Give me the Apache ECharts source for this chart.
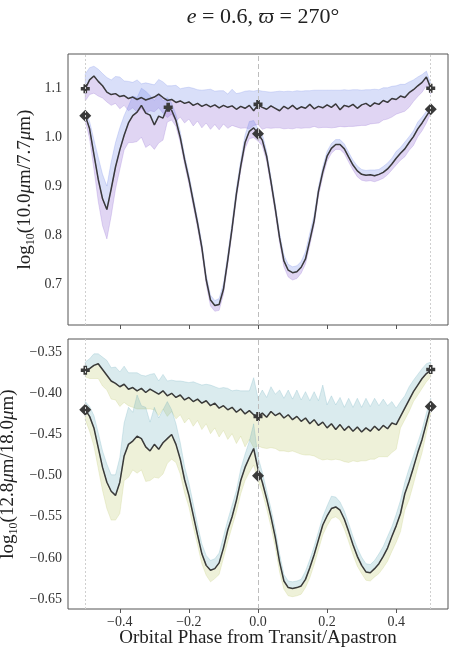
<!DOCTYPE html>
<html>
<head>
<meta charset="utf-8">
<script src="https://cdn.jsdelivr.net/npm/echarts@6/dist/echarts.min.js"></script>
<style>
  html, body { margin: 0; padding: 0; background: #fff; }
  #chart { width: 463px; height: 656px; }
</style>
</head>
<body>
<div id="chart"></div>
<script>
// orbital phase samples
const PH = [
  -0.5, -0.4875, -0.475, -0.4625, -0.45, -0.4375, -0.425, -0.4125, -0.4, -0.3875,
  -0.375, -0.3625, -0.35, -0.3375, -0.325, -0.3125, -0.3, -0.2875, -0.275, -0.2625,
  -0.25, -0.2375, -0.225, -0.2125, -0.2, -0.1875, -0.175, -0.1625, -0.15, -0.1375,
  -0.125, -0.1125, -0.1, -0.0875, -0.075, -0.0625, -0.05, -0.0375, -0.025, -0.0125,
  0, 0.0125, 0.025, 0.0375, 0.05, 0.0625, 0.075, 0.0875, 0.1, 0.1125,
  0.125, 0.1375, 0.15, 0.1625, 0.175, 0.1875, 0.2, 0.2125, 0.225, 0.2375,
  0.25, 0.2625, 0.275, 0.2875, 0.3, 0.3125, 0.325, 0.3375, 0.35, 0.3625,
  0.375, 0.3875, 0.4, 0.4125, 0.425, 0.4375, 0.45, 0.4625, 0.475, 0.4875,
  0.5
];

// top panel: log10(10.0um/7.7um)
const TOP_A = [
  1.100, 1.118, 1.126, 1.115, 1.106, 1.093, 1.088, 1.090, 1.084, 1.086,
  1.080, 1.083, 1.078, 1.082, 1.077, 1.080, 1.083, 1.089, 1.082, 1.076,
  1.078, 1.072, 1.075, 1.070, 1.073, 1.066, 1.070, 1.064, 1.068, 1.063,
  1.067, 1.061, 1.066, 1.062, 1.065, 1.058, 1.064, 1.060, 1.066, 1.055,
  1.067, 1.062, 1.058, 1.065, 1.060, 1.055, 1.064, 1.059, 1.066, 1.058,
  1.063, 1.060, 1.068, 1.059, 1.064, 1.061, 1.067, 1.062, 1.069, 1.057,
  1.066, 1.063, 1.068, 1.060, 1.067, 1.070, 1.064, 1.071, 1.068, 1.076,
  1.072, 1.080, 1.078, 1.085, 1.082, 1.092, 1.098, 1.106, 1.113, 1.124,
  1.101
];
const TOP_A_UP = [
  0.030, 0.025, 0.020, 0.025, 0.025, 0.030, 0.030, 0.035, 0.040, 0.030,
  0.035, 0.030, 0.040, 0.028, 0.035, 0.030, 0.025, 0.030, 0.032, 0.030,
  0.028, 0.035, 0.025, 0.032, 0.030, 0.035, 0.028, 0.033, 0.030, 0.036,
  0.028, 0.035, 0.030, 0.027, 0.034, 0.032, 0.028, 0.035, 0.030, 0.040,
  0.030, 0.033, 0.036, 0.028, 0.034, 0.040, 0.030, 0.036, 0.028, 0.038,
  0.032, 0.036, 0.028, 0.038, 0.033, 0.036, 0.030, 0.035, 0.028, 0.040,
  0.032, 0.034, 0.030, 0.038, 0.030, 0.028, 0.034, 0.028, 0.030, 0.026,
  0.030, 0.025, 0.028, 0.024, 0.027, 0.022, 0.020, 0.018, 0.016, 0.012,
  0.010
];
const TOP_A_DN = [
  0.025, 0.030, 0.035, 0.030, 0.025, 0.020, 0.022, 0.020, 0.025, 0.020,
  0.025, 0.022, 0.026, 0.022, 0.028, 0.025, 0.030, 0.028, 0.032, 0.035,
  0.030, 0.038, 0.033, 0.040, 0.035, 0.042, 0.036, 0.044, 0.038, 0.046,
  0.040, 0.045, 0.038, 0.043, 0.040, 0.036, 0.045, 0.040, 0.048, 0.030,
  0.040, 0.045, 0.038, 0.046, 0.040, 0.035, 0.046, 0.040, 0.048, 0.038,
  0.044, 0.040, 0.048, 0.036, 0.044, 0.040, 0.046, 0.042, 0.048, 0.034,
  0.044, 0.040, 0.045, 0.036, 0.042, 0.045, 0.036, 0.042, 0.038, 0.040,
  0.034, 0.038, 0.030, 0.034, 0.028, 0.030, 0.024, 0.022, 0.020, 0.018,
  0.012
];
const TOP_B = [
  1.045, 1.018, 0.966, 0.915, 0.875, 0.853, 0.895, 0.940, 0.975, 1.005,
  1.030, 1.045, 1.052, 1.066, 1.050, 1.046, 1.026, 1.044, 1.040, 1.062,
  1.056, 1.035, 1.000, 0.955, 0.915, 0.870, 0.825, 0.775, 0.710, 0.668,
  0.657, 0.659, 0.690, 0.750, 0.815, 0.885, 0.942, 0.990, 1.013, 1.020,
  1.008, 0.995, 0.962, 0.910, 0.855, 0.795, 0.748, 0.729, 0.724, 0.726,
  0.735, 0.752, 0.790, 0.830, 0.890, 0.930, 0.962, 0.978, 0.986, 0.986,
  0.977, 0.960, 0.944, 0.932, 0.925, 0.923, 0.924, 0.922, 0.925, 0.929,
  0.936, 0.946, 0.958, 0.968, 0.977, 0.990, 1.002, 1.018, 1.030, 1.044,
  1.058
];
const TOP_B_UP = [
  0.008, 0.015, 0.030, 0.045, 0.050, 0.048, 0.055, 0.050, 0.045, 0.040,
  0.035, 0.040, 0.030, 0.035, 0.045, 0.040, 0.050, 0.045, 0.035, 0.020,
  0.015, 0.012, 0.012, 0.010, 0.010, 0.010, 0.010, 0.010, 0.010, 0.010,
  0.010, 0.012, 0.012, 0.012, 0.012, 0.012, 0.012, 0.015, 0.020, 0.015,
  0.010, 0.012, 0.010, 0.010, 0.010, 0.010, 0.012, 0.012, 0.012, 0.012,
  0.012, 0.015, 0.015, 0.012, 0.010, 0.010, 0.010, 0.010, 0.010, 0.010,
  0.010, 0.010, 0.010, 0.010, 0.010, 0.010, 0.010, 0.012, 0.010, 0.012,
  0.012, 0.012, 0.014, 0.012, 0.014, 0.012, 0.012, 0.014, 0.012, 0.010,
  0.005
];
const TOP_B_DN = [
  0.010, 0.020, 0.030, 0.045, 0.055, 0.060, 0.055, 0.045, 0.040, 0.030,
  0.040, 0.055, 0.060, 0.065, 0.070, 0.060, 0.050, 0.055, 0.045, 0.030,
  0.020, 0.012, 0.010, 0.010, 0.010, 0.010, 0.010, 0.010, 0.010, 0.012,
  0.012, 0.012, 0.010, 0.010, 0.010, 0.010, 0.010, 0.012, 0.015, 0.020,
  0.015, 0.012, 0.010, 0.010, 0.010, 0.010, 0.012, 0.014, 0.015, 0.014,
  0.012, 0.010, 0.010, 0.010, 0.010, 0.010, 0.010, 0.010, 0.010, 0.010,
  0.010, 0.010, 0.010, 0.012, 0.012, 0.012, 0.012, 0.012, 0.012, 0.012,
  0.012, 0.012, 0.014, 0.014, 0.016, 0.016, 0.018, 0.016, 0.016, 0.014,
  0.008
];

// bottom panel: log10(12.8um/18.0um)
const BOT_A = [
  -0.372, -0.370, -0.366, -0.364, -0.371, -0.378, -0.385, -0.388, -0.392, -0.389,
  -0.395, -0.393, -0.397, -0.394, -0.399, -0.395, -0.398, -0.401, -0.397, -0.403,
  -0.400, -0.405, -0.402, -0.408, -0.405, -0.410, -0.407, -0.412, -0.409, -0.415,
  -0.412, -0.418, -0.415, -0.420, -0.417, -0.423, -0.419, -0.425, -0.421, -0.426,
  -0.428, -0.424, -0.429, -0.422, -0.427, -0.424, -0.430, -0.426, -0.432, -0.428,
  -0.434, -0.430, -0.437, -0.432, -0.439, -0.435, -0.442, -0.437, -0.444, -0.438,
  -0.445, -0.440, -0.446, -0.441, -0.447, -0.442, -0.446, -0.440, -0.445, -0.439,
  -0.443, -0.436, -0.438, -0.428, -0.418, -0.408, -0.398, -0.390, -0.382, -0.376,
  -0.372
];
const BOT_A_UP = [
  0.010, 0.012, 0.014, 0.012, 0.015, 0.018, 0.016, 0.020, 0.018, 0.022,
  0.020, 0.018, 0.022, 0.016, 0.020, 0.018, 0.022, 0.016, 0.020, 0.018,
  0.016, 0.020, 0.017, 0.022, 0.018, 0.024, 0.019, 0.022, 0.020, 0.025,
  0.020, 0.024, 0.022, 0.026, 0.020, 0.027, 0.022, 0.028, 0.024, 0.045,
  0.022, 0.028, 0.024, 0.030, 0.026, 0.028, 0.024, 0.030, 0.025, 0.032,
  0.026, 0.032, 0.028, 0.034, 0.030, 0.045, 0.028, 0.034, 0.030, 0.033,
  0.028, 0.034, 0.029, 0.035, 0.030, 0.036, 0.030, 0.034, 0.030, 0.032,
  0.028, 0.026, 0.020, 0.018, 0.015, 0.016, 0.014, 0.013, 0.012, 0.012,
  0.010
];
const BOT_A_DN = [
  0.008, 0.012, 0.016, 0.018, 0.020, 0.018, 0.022, 0.020, 0.024, 0.022,
  0.020, 0.024, 0.022, 0.025, 0.020, 0.024, 0.022, 0.026, 0.022, 0.025,
  0.022, 0.026, 0.024, 0.028, 0.025, 0.030, 0.026, 0.032, 0.028, 0.034,
  0.030, 0.035, 0.030, 0.036, 0.032, 0.038, 0.033, 0.040, 0.035, 0.040,
  0.036, 0.042, 0.038, 0.044, 0.040, 0.046, 0.040, 0.045, 0.038, 0.044,
  0.040, 0.045, 0.038, 0.044, 0.040, 0.046, 0.038, 0.044, 0.036, 0.043,
  0.038, 0.044, 0.036, 0.042, 0.035, 0.040, 0.034, 0.040, 0.032, 0.038,
  0.034, 0.036, 0.030, 0.014, 0.014, 0.014, 0.012, 0.012, 0.012, 0.010,
  0.008
];
const BOT_B = [
  -0.420, -0.428, -0.442, -0.466, -0.490, -0.508, -0.519, -0.524, -0.508, -0.476,
  -0.462, -0.458, -0.452, -0.455, -0.465, -0.470, -0.462, -0.468, -0.460, -0.455,
  -0.450, -0.462, -0.480, -0.505, -0.524, -0.548, -0.572, -0.595, -0.609, -0.615,
  -0.613, -0.606, -0.588, -0.566, -0.550, -0.530, -0.506, -0.490, -0.478, -0.467,
  -0.492, -0.508, -0.528, -0.550, -0.575, -0.605, -0.628, -0.636, -0.637, -0.636,
  -0.634, -0.626, -0.612, -0.596, -0.578, -0.560, -0.549, -0.540, -0.538, -0.542,
  -0.553, -0.568, -0.584, -0.598, -0.609, -0.617, -0.618, -0.613, -0.607, -0.598,
  -0.588, -0.574, -0.561, -0.546, -0.522, -0.507, -0.490, -0.472, -0.456, -0.436,
  -0.416
];
const BOT_B_UP = [
  0.010, 0.012, 0.015, 0.018, 0.020, 0.022, 0.020, 0.025, 0.030, 0.040,
  0.045, 0.035, 0.050, 0.040, 0.048, 0.035, 0.045, 0.038, 0.040, 0.045,
  0.030, 0.025, 0.020, 0.016, 0.015, 0.014, 0.012, 0.012, 0.012, 0.012,
  0.012, 0.012, 0.014, 0.012, 0.014, 0.012, 0.014, 0.016, 0.020, 0.030,
  0.015, 0.012, 0.010, 0.010, 0.010, 0.010, 0.008, 0.008, 0.008, 0.008,
  0.008, 0.010, 0.010, 0.010, 0.010, 0.010, 0.012, 0.015, 0.012, 0.010,
  0.010, 0.010, 0.010, 0.010, 0.010, 0.010, 0.010, 0.010, 0.012, 0.012,
  0.014, 0.012, 0.014, 0.016, 0.014, 0.016, 0.014, 0.012, 0.012, 0.012,
  0.010
];
const BOT_B_DN = [
  0.012, 0.018, 0.022, 0.025, 0.028, 0.032, 0.035, 0.030, 0.038, 0.030,
  0.040, 0.035, 0.045, 0.038, 0.042, 0.036, 0.040, 0.035, 0.038, 0.030,
  0.030, 0.022, 0.018, 0.016, 0.014, 0.014, 0.012, 0.012, 0.012, 0.014,
  0.012, 0.014, 0.012, 0.014, 0.012, 0.014, 0.016, 0.016, 0.018, 0.020,
  0.014, 0.012, 0.012, 0.012, 0.012, 0.012, 0.010, 0.010, 0.010, 0.010,
  0.010, 0.010, 0.012, 0.012, 0.012, 0.012, 0.012, 0.012, 0.012, 0.012,
  0.012, 0.012, 0.012, 0.012, 0.010, 0.010, 0.010, 0.010, 0.012, 0.014,
  0.016, 0.018, 0.020, 0.022, 0.020, 0.022, 0.020, 0.018, 0.016, 0.012,
  0.008
];

// markers at transit / apastron etc.
const TOP_PLUS_X = [-0.5, -0.26, 0, 0.5];
const TOP_PLUS_Y = [1.100, 1.062, 1.068, 1.101];
const TOP_DIAM_X = [-0.5, 0, 0.5];
const TOP_DIAM_Y = [1.045, 1.008, 1.058];
const BOT_PLUS_X = [-0.5, 0, 0.5];
const BOT_PLUS_Y = [-0.372, -0.428, -0.371];
const BOT_DIAM_X = [-0.5, 0, 0.5];
const BOT_DIAM_Y = [-0.420, -0.500, -0.416];

const X_TICKS = [-0.4, -0.2, 0, 0.2, 0.4];
const TOP_Y_TICKS = [0.7, 0.8, 0.9, 1.0, 1.1];
const BOT_Y_TICKS = [-0.65, -0.6, -0.55, -0.5, -0.45, -0.4, -0.35];
const VLINES = [-0.5, 0, 0.5];

const SERIF = "'Liberation Serif', 'DejaVu Serif', serif";
const INK = '#3a3a3a';
const PLUS = 'path://M3,0H7V3H10V7H7V10H3V7H0V3H3Z';

const fmt = (v, d) => (v < 0 ? '\u2212' : '') + Math.abs(v).toFixed(d);

function pairs(xs, ys) { return xs.map((x, i) => [x, ys[i]]); }

// shaded range drawn as one polygon through the axis scales
function band(gi, vals, up, dn, side, fill, stroke) {
  return {
    type: 'custom', xAxisIndex: gi, yAxisIndex: gi, silent: true, z: 1,
    data: [[0, vals[40]]],
    renderItem: function (params, api) {
      const hi = [], lo = [];
      PH.forEach((x, i) => {
        const a = side > 0 ? vals[i] + up[i] : vals[i];
        const b = side > 0 ? vals[i] : vals[i] - dn[i];
        hi.push(api.coord([x, a]));
        lo.push(api.coord([x, b]));
      });
      return {
        type: 'polygon',
        shape: { points: hi.concat(lo.reverse()) },
        style: { fill: fill, stroke: stroke, lineWidth: 0.6 }
      };
    }
  };
}

function curve(gi, vals) {
  return {
    type: 'line', xAxisIndex: gi, yAxisIndex: gi, z: 3,
    data: pairs(PH, vals), showSymbol: false, silent: true,
    lineStyle: { color: INK, width: 1.5 }
  };
}

function marks(gi, xs, ys, symbol, size) {
  return {
    type: 'scatter', xAxisIndex: gi, yAxisIndex: gi, z: 4, silent: true,
    data: pairs(xs, ys), symbol: symbol, symbolSize: size,
    itemStyle: { color: INK, opacity: 1 }
  };
}

function guides(gi) {
  return {
    type: 'line', xAxisIndex: gi, yAxisIndex: gi, z: 0, silent: true,
    data: [], symbol: 'none',
    markLine: {
      silent: true, symbol: 'none', label: { show: false },
      data: VLINES.map(v => ({
        xAxis: v,
        lineStyle: { color: v === 0 ? '#bdbdbd' : '#cfcfcf', width: 1, type: v === 0 ? [5, 3] : [2, 2] }
      }))
    }
  };
}

const richName = {
  n: { fontFamily: SERIF, fontSize: 19, color: '#222', lineHeight: 24 },
  i: { fontFamily: SERIF, fontSize: 19, color: '#222', fontStyle: 'italic', lineHeight: 24 },
  s: { fontFamily: SERIF, fontSize: 12, color: '#222', lineHeight: 13, verticalAlign: 'bottom' }
};

function xAxis(gi, labels) {
  return {
    type: 'value', gridIndex: gi, min: -0.55, max: 0.55,
    axisLine: { show: false }, splitLine: { show: false },
    axisTick: { show: true, customValues: X_TICKS, length: 4, lineStyle: { color: '#555' } },
    axisLabel: {
      show: labels, customValues: X_TICKS, margin: 6,
      fontFamily: SERIF, fontSize: 14, color: '#333',
      formatter: v => fmt(v, 1)
    },
    name: labels ? 'Orbital Phase from Transit/Apastron' : '',
    nameLocation: 'middle', nameGap: 20, nameMoveOverlap: false,
    nameTextStyle: { fontFamily: SERIF, fontSize: 19, color: '#222' }
  };
}

function yAxis(gi, min, max, ticks, dec, name, gap) {
  return {
    type: 'value', gridIndex: gi, min: min, max: max,
    axisLine: { show: false }, splitLine: { show: false },
    axisTick: { show: false },
    axisLabel: {
      customValues: ticks, margin: 6,
      fontFamily: SERIF, fontSize: 14, color: '#333',
      formatter: v => fmt(v, dec)
    },
    name: name, nameLocation: 'middle', nameGap: gap, nameMoveOverlap: false,
    nameTextStyle: { rich: richName }
  };
}

const chart = echarts.init(document.getElementById('chart'));
chart.setOption({
  animation: false,
  backgroundColor: '#fff',
  title: {
    text: '{i|e} = 0.6, {i|\u03D6} = 270\u00B0',
    left: 258, top: 1, textAlign: 'center',
    textStyle: {
      rich: {
        i: { fontFamily: SERIF, fontSize: 22, fontStyle: 'italic', color: '#222' }
      },
      fontFamily: SERIF, fontSize: 22, fontWeight: 'normal', color: '#222'
    }
  },
  grid: [
    { left: 68, top: 54, width: 380, height: 271, outerBoundsMode: 'none', show: true, borderColor: '#555', borderWidth: 1, backgroundColor: 'transparent' },
    { left: 68, top: 339, width: 380, height: 270, outerBoundsMode: 'none', show: true, borderColor: '#555', borderWidth: 1, backgroundColor: 'transparent' }
  ],
  xAxis: [xAxis(0, false), xAxis(1, true)],
  yAxis: [
    yAxis(0, 0.617, 1.171, TOP_Y_TICKS, 1, '{n|log}{s|10}{n|(10.0}{i|\u03BC}{n|m/7.7}{i|\u03BC}{n|m)}', 31),
    yAxis(1, -0.662, -0.334, BOT_Y_TICKS, 2, '{n|log}{s|10}{n|(12.8}{i|\u03BC}{n|m/18.0}{i|\u03BC}{n|m)}', 48)
  ],
  series: [
    guides(0), guides(1),
    band(0, TOP_A, TOP_A_UP, TOP_A_DN, 1, 'rgba(110,130,230,0.26)', 'rgba(110,130,230,0.40)'),
    band(0, TOP_A, TOP_A_UP, TOP_A_DN, -1, 'rgba(140,100,210,0.27)', 'rgba(140,100,210,0.40)'),
    band(0, TOP_B, TOP_B_UP, TOP_B_DN, 1, 'rgba(110,130,230,0.26)', 'rgba(110,130,230,0.40)'),
    band(0, TOP_B, TOP_B_UP, TOP_B_DN, -1, 'rgba(140,100,210,0.27)', 'rgba(140,100,210,0.40)'),
    band(1, BOT_A, BOT_A_UP, BOT_A_DN, 1, 'rgba(100,170,185,0.24)', 'rgba(100,170,185,0.40)'),
    band(1, BOT_A, BOT_A_UP, BOT_A_DN, -1, 'rgba(190,200,110,0.26)', 'rgba(190,200,110,0.40)'),
    band(1, BOT_B, BOT_B_UP, BOT_B_DN, 1, 'rgba(100,170,185,0.24)', 'rgba(100,170,185,0.40)'),
    band(1, BOT_B, BOT_B_UP, BOT_B_DN, -1, 'rgba(190,200,110,0.26)', 'rgba(190,200,110,0.40)'),
    curve(0, TOP_A), curve(0, TOP_B),
    curve(1, BOT_A), curve(1, BOT_B),
    marks(0, TOP_PLUS_X, TOP_PLUS_Y, PLUS, 9),
    marks(0, TOP_DIAM_X, TOP_DIAM_Y, 'diamond', 12),
    marks(1, BOT_PLUS_X, BOT_PLUS_Y, PLUS, 9),
    marks(1, BOT_DIAM_X, BOT_DIAM_Y, 'diamond', 12)
  ]
});
</script>
</body>
</html>
